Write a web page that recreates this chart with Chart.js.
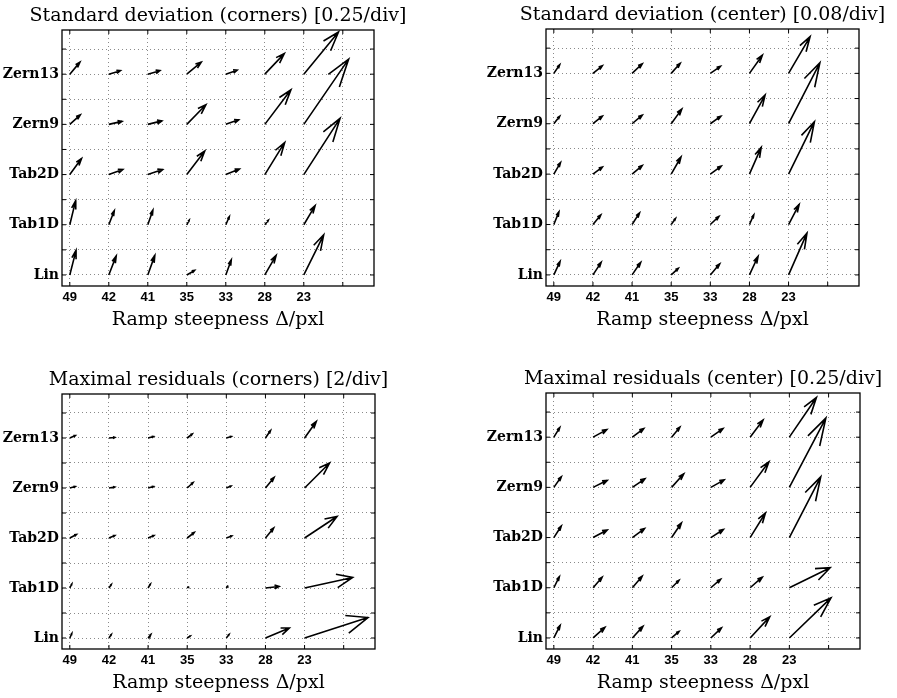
<!DOCTYPE html>
<html>
<head>
<meta charset="utf-8">
<script src="https://cdn.jsdelivr.net/npm/chart.js@4.4.1/dist/chart.umd.min.js"></script>
<style>
  body { margin: 0; background: #fff; overflow: hidden; }
  #wrap { position: relative; width: 897px; height: 698px; }
  canvas { position: absolute; }
</style>
</head>
<body>
<div id="wrap">
  <canvas id="c1" width="448" height="349" style="left:0;top:0"></canvas>
  <canvas id="c2" width="449" height="349" style="left:448px;top:0"></canvas>
  <canvas id="c3" width="448" height="349" style="left:0;top:349px"></canvas>
  <canvas id="c4" width="449" height="349" style="left:448px;top:349px"></canvas>
</div>
<script>
// ramp steepness labels (x) and method labels (y)
const steepness = ['49', '42', '41', '35', '33', '28', '23'];
const methods = ['Lin', 'Tab1D', 'Tab2D', 'Zern9', 'Zern13'];

// arrow components, rows = methods, columns = steepness (axis units)
const sdCornersU = [
  [0.16, 0.19, 0.18, 0.20, 0.14, 0.29, 0.51],
  [0.15, 0.14, 0.13, 0.06, 0.09, 0.09, 0.29],
  [0.30, 0.36, 0.38, 0.46, 0.35, 0.51, 0.93],
  [0.27, 0.34, 0.36, 0.49, 0.33, 0.67, 1.15],
  [0.26, 0.30, 0.31, 0.37, 0.29, 0.50, 0.89]
];
const sdCornersV = [
  [0.49, 0.38, 0.39, 0.09, 0.30, 0.39, 0.80],
  [0.48, 0.28, 0.29, 0.09, 0.16, 0.09, 0.38],
  [0.32, 0.10, 0.10, 0.47, 0.11, 0.64, 1.12],
  [0.19, 0.06, 0.07, 0.39, 0.09, 0.69, 1.30],
  [0.24, 0.07, 0.07, 0.24, 0.08, 0.41, 0.84]
];

const sdCenterU = [
  [0.16, 0.21, 0.22, 0.18, 0.24, 0.22, 0.47],
  [0.13, 0.20, 0.19, 0.11, 0.22, 0.11, 0.27],
  [0.17, 0.24, 0.26, 0.25, 0.28, 0.30, 0.66],
  [0.15, 0.24, 0.26, 0.27, 0.27, 0.40, 0.80],
  [0.15, 0.24, 0.26, 0.23, 0.26, 0.33, 0.55]
];
const sdCenterV = [
  [0.27, 0.25, 0.25, 0.13, 0.22, 0.37, 0.83],
  [0.25, 0.19, 0.23, 0.12, 0.16, 0.19, 0.40],
  [0.23, 0.14, 0.17, 0.34, 0.16, 0.53, 1.04],
  [0.15, 0.15, 0.17, 0.29, 0.15, 0.57, 1.21],
  [0.17, 0.15, 0.19, 0.20, 0.14, 0.36, 0.73]
];

const mrCornersU = [
  [0.05, 0.06, 0.07, 0.08, 0.07, 0.61, 1.62],
  [0.05, 0.06, 0.06, 0.04, 0.04, 0.35, 1.23],
  [0.17, 0.15, 0.15, 0.18, 0.14, 0.21, 0.83],
  [0.14, 0.15, 0.14, 0.15, 0.12, 0.22, 0.64],
  [0.14, 0.15, 0.14, 0.13, 0.13, 0.13, 0.30]
];
const mrCornersV = [
  [0.09, 0.07, 0.07, 0.04, 0.07, 0.20, 0.41],
  [0.08, 0.07, 0.08, 0.03, 0.05, 0.03, 0.21],
  [0.07, 0.05, 0.05, 0.11, 0.04, 0.20, 0.43],
  [0.03, 0.02, 0.03, 0.11, 0.04, 0.21, 0.50],
  [0.05, 0.01, 0.03, 0.08, 0.03, 0.15, 0.33]
];

const mrCenterU = [
  [0.16, 0.30, 0.27, 0.19, 0.27, 0.50, 1.06],
  [0.14, 0.23, 0.25, 0.19, 0.25, 0.31, 1.04],
  [0.19, 0.36, 0.31, 0.25, 0.32, 0.39, 0.80],
  [0.19, 0.36, 0.32, 0.31, 0.34, 0.48, 0.93],
  [0.15, 0.35, 0.29, 0.21, 0.31, 0.33, 0.69]
];
const mrCenterV = [
  [0.25, 0.21, 0.23, 0.13, 0.20, 0.42, 0.80],
  [0.22, 0.21, 0.23, 0.15, 0.17, 0.21, 0.40],
  [0.23, 0.15, 0.18, 0.29, 0.16, 0.49, 1.21],
  [0.21, 0.14, 0.17, 0.27, 0.15, 0.51, 1.38],
  [0.19, 0.15, 0.17, 0.20, 0.17, 0.34, 0.79]
];

// quiver-style arrows: shaft + head, separated by gaps
function quiverPoints(U, V) {
  const alpha = 0.33, beta = 0.33;
  const pts = [];
  U.forEach((row, j) => {
    row.forEach((u, i) => {
      const v = V[j][i];
      const tx = i + u, ty = j + v;
      pts.push({ x: i, y: j }, { x: tx, y: ty }, { x: tx, y: null });
      pts.push(
        { x: tx - alpha * (u + beta * v), y: ty - alpha * (v - beta * u) },
        { x: tx, y: ty },
        { x: tx - alpha * (u - beta * v), y: ty - alpha * (v + beta * u) },
        { x: tx, y: null }
      );
    });
  });
  return pts;
}

// frame, inner tick marks and panel title
const panelPlugin = {
  id: 'panel',
  afterDraw(chart, args, opts) {
    const { ctx, chartArea: a, scales } = chart;
    ctx.save();
    ctx.strokeStyle = '#000';
    ctx.lineWidth = 1.3;
    ctx.strokeRect(a.left, a.top, a.right - a.left, a.bottom - a.top);
    ctx.lineWidth = 1;
    ctx.beginPath();
    scales.x.ticks.forEach(t => {
      const px = scales.x.getPixelForValue(t.value);
      ctx.moveTo(px, a.bottom); ctx.lineTo(px, a.bottom - 4);
      ctx.moveTo(px, a.top); ctx.lineTo(px, a.top + 4);
    });
    scales.y.ticks.forEach(t => {
      const py = scales.y.getPixelForValue(t.value);
      ctx.moveTo(a.left, py); ctx.lineTo(a.left + 4, py);
      ctx.moveTo(a.right, py); ctx.lineTo(a.right - 4, py);
    });
    ctx.stroke();
    ctx.fillStyle = '#000';
    ctx.font = '19px "DejaVu Serif"';
    ctx.textAlign = 'center';
    ctx.textBaseline = 'alphabetic';
    ctx.fillText(opts.title, (a.left + a.right) / 2, a.top - 9);
    ctx.restore();
  }
};

function makePanel(id, title, U, V, pad) {
  new Chart(document.getElementById(id), {
    type: 'scatter',
    data: {
      datasets: [{
        data: quiverPoints(U, V),
        showLine: true,
        spanGaps: false,
        borderColor: '#000',
        borderWidth: 1.6,
        pointRadius: 0,
        pointHoverRadius: 0
      }]
    },
    options: {
      responsive: false,
      animation: false,
      events: [],
      layout: { padding: pad },
      plugins: {
        legend: { display: false },
        tooltip: { enabled: false },
        panel: { title: title }
      },
      scales: {
        x: {
          type: 'linear',
          min: -0.2,
          max: 7.8,
          afterBuildTicks: s => { s.ticks = [0, 1, 2, 3, 4, 5, 6, 7].map(v => ({ value: v })); },
          afterFit: s => { s.height = 48; },
          ticks: {
            autoSkip: false,
            maxRotation: 0,
            padding: 4,
            color: '#000',
            font: { family: '"Liberation Sans"', size: 13, weight: 'bold' },
            callback: v => steepness[v] ?? ''
          },
          grid: { color: '#8a8a8a', lineWidth: 1, drawTicks: false },
          border: { display: false, dash: [1, 3] },
          title: {
            display: true,
            text: 'Ramp steepness Δ/pxl',
            color: '#000',
            font: { family: '"DejaVu Serif"', size: 19 },
            padding: { top: 0, bottom: 3 }
          }
        },
        y: {
          type: 'linear',
          min: -0.22,
          max: 4.88,
          afterBuildTicks: s => { s.ticks = [0, 0.5, 1, 1.5, 2, 2.5, 3, 3.5, 4, 4.5].map(v => ({ value: v })); },
          afterFit: s => { s.width = 62; },
          ticks: {
            autoSkip: false,
            padding: 3,
            color: '#000',
            font: { family: '"DejaVu Serif"', size: 14, weight: 'bold' },
            callback: v => Number.isInteger(v) ? methods[v] : ''
          },
          grid: { color: '#8a8a8a', lineWidth: 1, drawTicks: false },
          border: { display: false, dash: [1, 3] }
        }
      }
    },
    plugins: [panelPlugin]
  });
}

makePanel('c1', 'Standard deviation (corners) [0.25/div]', sdCornersU, sdCornersV,
  { left: 0, top: 30, right: 74, bottom: 15 });
makePanel('c2', 'Standard deviation (center) [0.08/div]', sdCenterU, sdCenterV,
  { left: 36, top: 29, right: 38, bottom: 15 });
makePanel('c3', 'Maximal residuals (corners) [2/div]', mrCornersU, mrCornersV,
  { left: 0, top: 45, right: 73, bottom: 1 });
makePanel('c4', 'Maximal residuals (center) [0.25/div]', mrCenterU, mrCenterV,
  { left: 36, top: 44, right: 37, bottom: 1 });
</script>
</body>
</html>
